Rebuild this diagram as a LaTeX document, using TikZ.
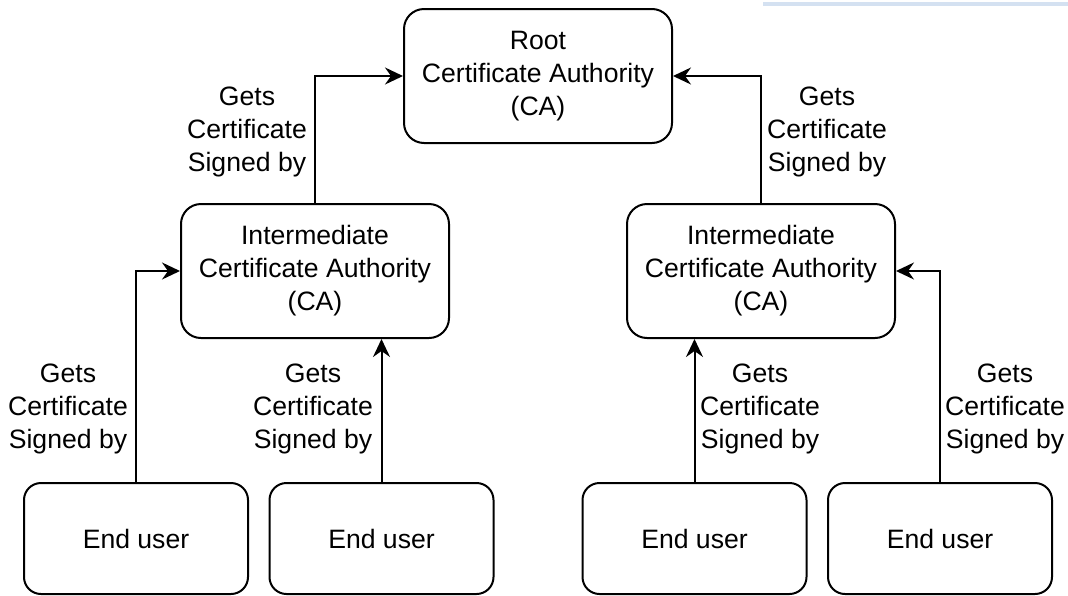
\documentclass[tikz,border=0pt]{standalone}
\usepackage{fontspec}
\setmainfont{Liberation Sans}
\usetikzlibrary{arrows.meta}
\definecolor{barblue}{HTML}{D4E1F1}
\begin{document}
\begin{tikzpicture}[x=1pt,y=-1pt,
  every node/.style={font=\fontsize{26.6}{33}\selectfont, align=center, inner sep=0pt},
  cabox/.style={draw, line width=2pt, rounded corners=20pt, minimum width=268pt, minimum height=134pt},
  userbox/.style={draw, line width=2pt, rounded corners=17pt, minimum width=224pt, minimum height=111pt},
  conn/.style={line width=2pt, -{Stealth[length=18pt,width=17pt,inset=6pt]}},
  lbl/.style={text=black}]
\useasboundingbox (0,0) rectangle (1068,595);
\fill[barblue] (763,2) rectangle (1068,6);

\node[cabox] (root) at (538,76) {Root\\Certificate Authority\\(CA)};
\node[cabox] (intl) at (315,271) {Intermediate\\Certificate Authority\\(CA)};
\node[cabox] (intr) at (761,271) {Intermediate\\Certificate Authority\\(CA)};
\node[userbox] (e1) at (136,538.5) {End user};
\node[userbox] (e2) at (381.5,538.5) {End user};
\node[userbox] (e3) at (694.5,538.5) {End user};
\node[userbox] (e4) at (940,538.5) {End user};

\draw[conn] (intl.north) |- (root.west);
\draw[conn] (intr.north) |- (root.east);
\draw[conn] (e1.north) |- (intl.west);
\draw[conn] (e2.north) -- (e2.north |- intl.south);
\draw[conn] (e3.north) -- (e3.north |- intr.south);
\draw[conn] (e4.north) |- (intr.east);

\node[lbl] (l1) at (247,132) {Gets\\Certificate\\Signed by};
\node[lbl] (l2) at (827,132) {Gets\\Certificate\\Signed by};
\node[lbl] (l3) at (68,409) {Gets\\Certificate\\Signed by};
\node[lbl] (l4) at (313,409) {Gets\\Certificate\\Signed by};
\node[lbl] (l5) at (760,409) {Gets\\Certificate\\Signed by};
\node[lbl] (l6) at (1005,409) {Gets\\Certificate\\Signed by};
\end{tikzpicture}
\end{document}
